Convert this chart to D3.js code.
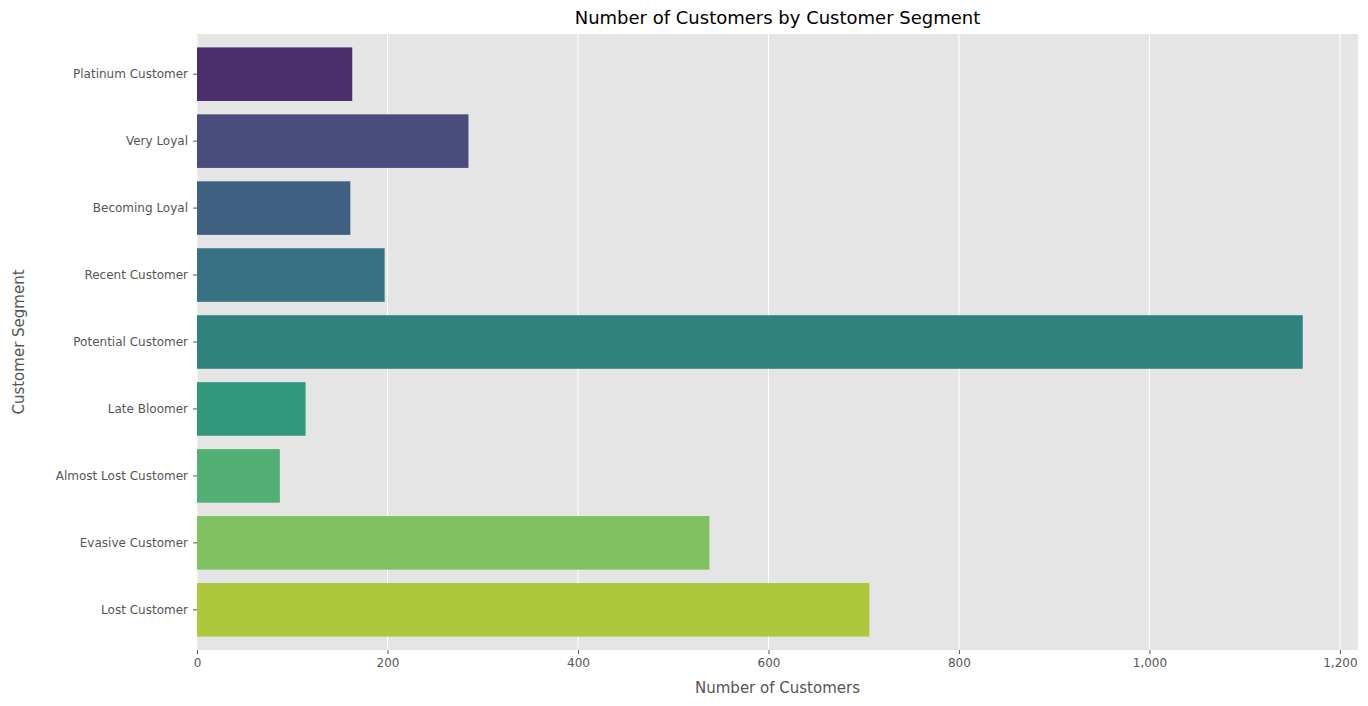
<!DOCTYPE html>
<html><head><meta charset="utf-8">
<script src="https://cdn.jsdelivr.net/npm/d3@7"></script>
<style>body{margin:0;background:#fff;font-family:"DejaVu Sans",sans-serif;}</style>
</head><body>
<script>
var segments = ["Platinum Customer","Very Loyal","Becoming Loyal","Recent Customer","Potential Customer","Late Bloomer","Almost Lost Customer","Evasive Customer","Lost Customer"];
var counts = [163, 285, 161, 197, 1161, 114, 87, 538, 706];
var xTicks = [0, 200, 400, 600, 800, 1000, 1200];

var width = 1368, height = 706;
var m = {left: 197, right: 10, top: 34, bottom: 56};

var svg = d3.select("body").append("svg").attr("width", width).attr("height", height);

var x = d3.scaleLinear().domain([0, 1219]).range([m.left, width - m.right]);
var y = d3.scaleBand().domain(segments).range([m.top, height - m.bottom]).padding(0.2);

// background
svg.append("rect").attr("x", m.left).attr("y", m.top)
	.attr("width", width - m.right - m.left).attr("height", height - m.bottom - m.top)
	.attr("fill", "#e5e5e5");

// grid
svg.append("g").selectAll("line").data(xTicks).enter().append("line")
	.attr("x1", d => x(d)).attr("x2", d => x(d))
	.attr("y1", m.top).attr("y2", height - m.bottom)
	.attr("stroke", "#fff").attr("stroke-width", 1);

//colours: seaborn viridis palette with saturation 0.75
function col(i){
	var c = d3.hsl(d3.interpolateViridis((i + 1) / (segments.length + 1)));
	c.s = c.s * 0.75;
	return c.toString();
}

svg.append("g").selectAll("rect").data(segments).enter().append("rect")
	.attr("x", x(0)).attr("y", d => y(d))
	.attr("width", (d, i) => x(counts[i]) - x(0))
	.attr("height", y.bandwidth())
	.attr("fill", (d, i) => col(i));

var xa = svg.append("g").attr("transform", "translate(0," + (height - m.bottom) + ")")
	.call(d3.axisBottom(x).tickValues(xTicks).tickSize(4).tickPadding(4));
var ya = svg.append("g").attr("transform", "translate(" + m.left + ",0)")
	.call(d3.axisLeft(y).tickSize(4).tickPadding(5));
[xa, ya].forEach(function(a){
	a.select(".domain").remove();
	a.selectAll("line").attr("stroke", "#555");
	a.selectAll("text").attr("fill", "#555").style("font-size", "12px").style("font-family", "DejaVu Sans");
});

svg.append("text").attr("x", (m.left + width - m.right) / 2).attr("y", 24)
	.attr("text-anchor", "middle").style("font-size", "18px").attr("fill", "#000")
	.text("Number of Customers by Customer Segment");
svg.append("text").attr("x", (m.left + width - m.right) / 2).attr("y", 693)
	.attr("text-anchor", "middle").style("font-size", "15px").attr("fill", "#555")
	.text("Number of Customers");
svg.append("text").attr("transform", "translate(24," + ((m.top + height - m.bottom) / 2) + ") rotate(-90)")
	.attr("text-anchor", "middle").style("font-size", "15px").attr("fill", "#555")
	.text("Customer Segment");
</script>
</body></html>
